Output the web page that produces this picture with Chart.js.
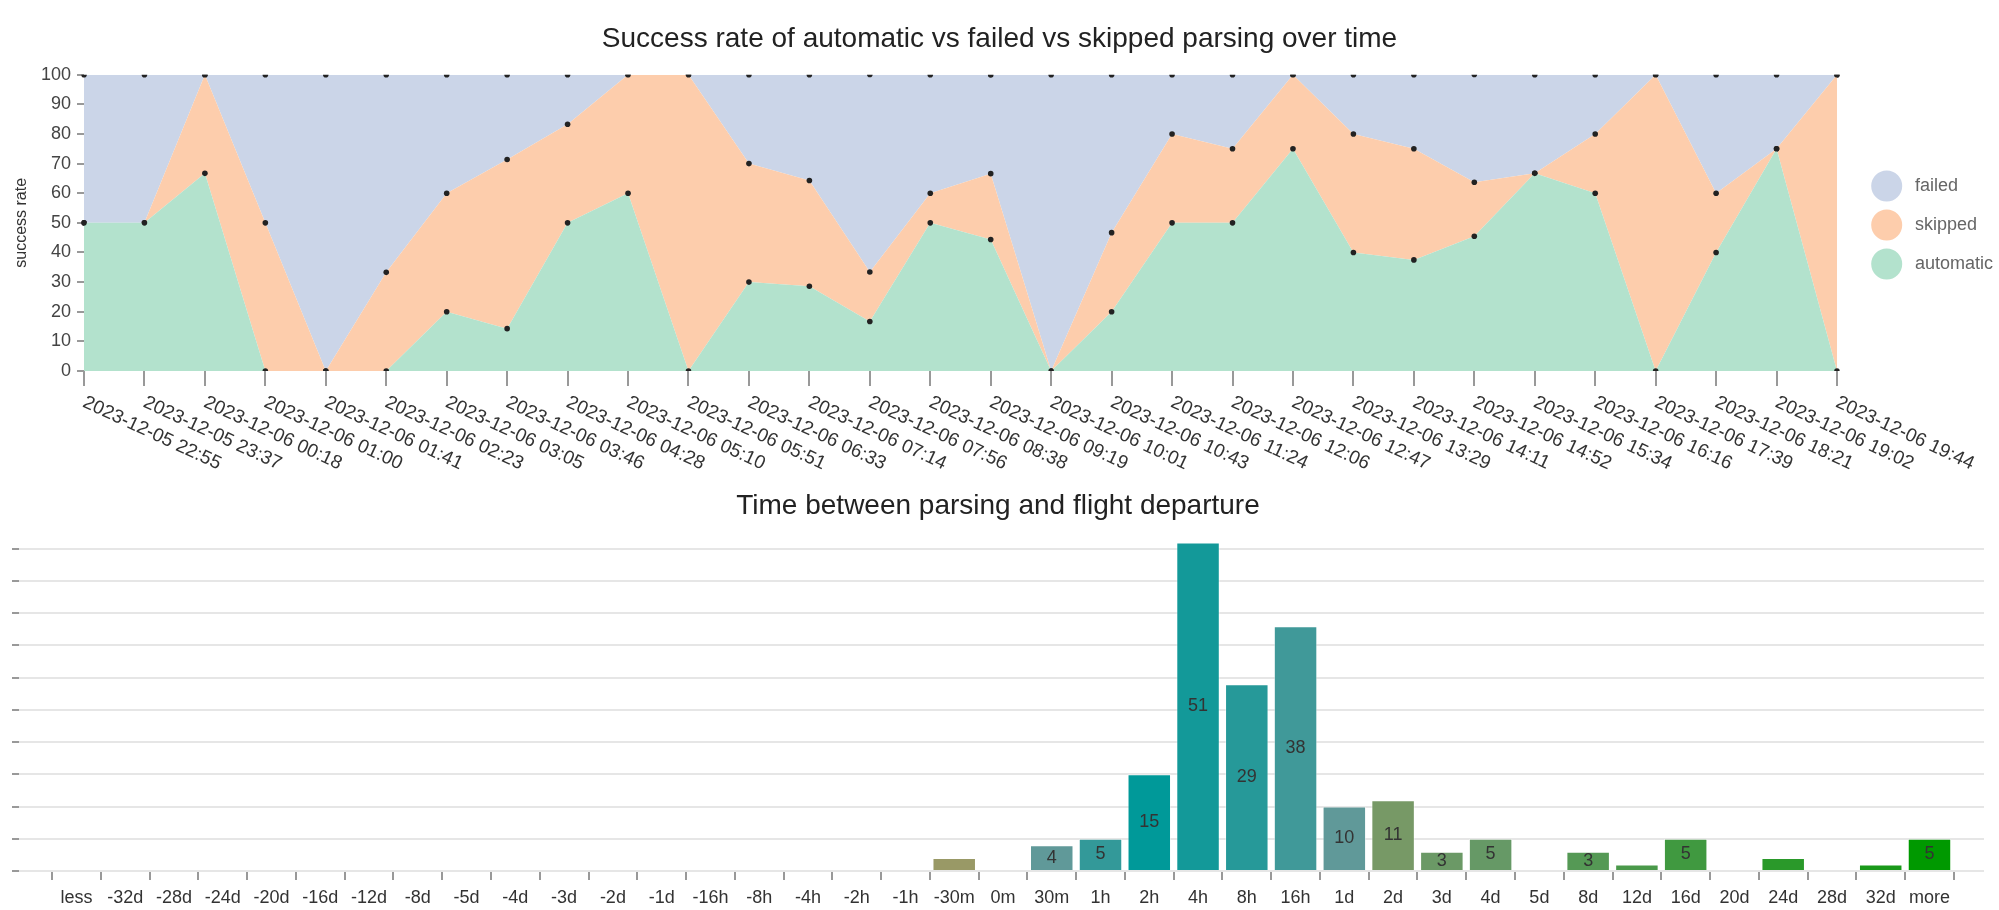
<!DOCTYPE html>
<html><head><meta charset="utf-8">
<script src="https://cdn.jsdelivr.net/npm/chart.js@4.4.0/dist/chart.umd.min.js"></script>
<style>
html,body{margin:0;padding:0;background:#fff;}
#wrap1{position:absolute;left:0;top:0;width:1999px;height:485px;}
#wrap2{position:absolute;left:0;top:485px;width:1999px;height:425px;}
canvas{display:block;}
</style></head><body>
<div id="wrap1"><canvas id="c1" width="1999" height="485"></canvas></div>
<div id="wrap2"><canvas id="c2" width="1999" height="425"></canvas></div>
<script>
// ---- Chart 1 data ----
const timeLabels = [
  '2023-12-05 22:55','2023-12-05 23:37','2023-12-06 00:18','2023-12-06 01:00','2023-12-06 01:41',
  '2023-12-06 02:23','2023-12-06 03:05','2023-12-06 03:46','2023-12-06 04:28','2023-12-06 05:10',
  '2023-12-06 05:51','2023-12-06 06:33','2023-12-06 07:14','2023-12-06 07:56','2023-12-06 08:38',
  '2023-12-06 09:19','2023-12-06 10:01','2023-12-06 10:43','2023-12-06 11:24','2023-12-06 12:06',
  '2023-12-06 12:47','2023-12-06 13:29','2023-12-06 14:11','2023-12-06 14:52','2023-12-06 15:34',
  '2023-12-06 16:16','2023-12-06 17:39','2023-12-06 18:21','2023-12-06 19:02','2023-12-06 19:44'
];
const automatic = [50, 50, 66.7, 0, 0, 0, 20, 14.3, 50, 60, 0, 30, 28.6, 16.7, 50, 44.4, 0, 20, 50, 50, 75, 40, 37.5, 45.5, 66.7, 60, 0, 40, 75, 0];
const skipped   = [0, 0, 33.3, 50, 0, 33.3, 40, 57.1, 33.3, 40, 100, 40, 35.7, 16.7, 10, 22.2, 0, 26.7, 30, 25, 25, 40, 37.5, 18.2, 0, 20, 100, 20, 0, 100];
const failed    = [50, 50, 0, 50, 100, 66.7, 40, 28.6, 16.7, 0, 0, 30, 35.7, 66.7, 40, 33.3, 100, 53.3, 20, 25, 0, 20, 25, 36.4, 33.3, 20, 0, 40, 25, 0];
const yTickStep = 10;

// ---- Chart 2 data ----
const bucketLabels = ['less','-32d','-28d','-24d','-20d','-16d','-12d','-8d','-5d','-4d','-3d','-2d','-1d',
  '-16h','-8h','-4h','-2h','-1h','-30m','0m','30m','1h','2h','4h','8h','16h','1d','2d','3d','4d','5d',
  '8d','12d','16d','20d','24d','28d','32d','more'];
const bucketCounts = [0,0,0,0,0,0,0,0,0,0,0,0,0, 0,0,0,0,0,2,0,4,5,15,51,29,38,10,11,3,5,0, 3,1,5,0,2,0,1,5];
const bucketColors = ['#999999','#999999','#999999','#999999','#999999','#999999','#999999','#999999','#999999','#999999','#999999','#999999','#999999',
  '#999999','#999999','#999999','#999999','#999999','#999966','#999999','#609999','#339999','#009999','#139999','#269999','#409999','#609999','#779966','#6b9966','#669966','#5e995e',
  '#559955','#4a994a','#409940','#339933','#2a992a','#229922','#1a991a','#009900'];

const FONT = "'Liberation Sans', Arial, Helvetica, sans-serif";
Chart.defaults.font.family = FONT;

const fillColors = {automatic:'#b3e2cd', skipped:'#fdcdac', failed:'#cbd5e8'};

function makeIcon(color){
  const c = document.createElement('canvas');
  c.width = 48; c.height = 34;
  const g = c.getContext('2d');
  g.fillStyle = color;
  g.beginPath(); g.arc(28.7, 17, 15.5, 0, Math.PI*2); g.fill();
  return c;
}

const legendWidthPlugin = {
  id: 'legendWidth',
  beforeLayout(chart){
    const lg = chart.legend;
    if (lg && !lg.__patched){
      const f = lg.fit;
      lg.fit = function(){ f.call(this); this.width = 162; };
      lg.__patched = true;
    }
  },
  afterLayout(chart){
    const lg = chart.legend;
    if (lg){ lg.top += 32; lg.bottom += 32; }
  }
};

const xLabelPlugin = {
  id: 'xLabels',
  afterDraw(chart){
    const xs = chart.scales.x, ctx = chart.ctx;
    const y0 = chart.chartArea.bottom + 22;
    ctx.save();
    ctx.font = '19px ' + FONT;
    ctx.fillStyle = '#333';
    ctx.textAlign = 'left';
    ctx.textBaseline = 'top';
    timeLabels.forEach((t, i) => {
      const x = xs.getPixelForValue(i);
      ctx.save();
      ctx.translate(x + 4, y0);
      ctx.rotate(25 * Math.PI / 180);
      ctx.fillText(t, 0, 0);
      ctx.restore();
    });
    ctx.restore();
  }
};

function ds(label, data, fill){
  return {label, data, fill, backgroundColor: fillColors[label], borderWidth: 0, borderColor: fillColors[label],
    pointRadius: 2.8, pointBackgroundColor: '#222', pointBorderWidth: 0, pointHoverRadius: 2.8, tension: 0};
}

new Chart(document.getElementById('c1'), {
  type: 'line',
  data: { labels: timeLabels, datasets: [
    ds('automatic', automatic, 'origin'),
    ds('skipped', skipped, '-1'),
    ds('failed', failed, '-1')
  ]},
  options: {
    responsive: false, animation: false, devicePixelRatio: 1,
    events: [],
    layout: {padding: {left: 0, right: 0, top: 0, bottom: 99}},
    plugins: {
      title: {display: true, text: 'Success rate of automatic vs failed vs skipped parsing over time',
        font: {size: 28, weight: 'normal'}, color: '#222', padding: {top: 22.7, bottom: 18.4}},
      legend: {position: 'right', reverse: true,
        labels: {usePointStyle: true, pointStyleWidth: 48, padding: 21, color: '#666', font: {size: 18},
          generateLabels(chart){
            const items = Chart.defaults.plugins.legend.labels.generateLabels(chart);
            items.forEach(it => { it.pointStyle = makeIcon(fillColors[it.text]); });
            return items;
          }}},
      tooltip: {enabled: false}
    },
    scales: {
      x: {grid: {drawOnChartArea: false, drawTicks: true, tickLength: 15, color: '#999', lineWidth: 2},
          border: {display: false}, ticks: {display: false}},
      y: {stacked: true, min: 0, max: 100,
          ticks: {stepSize: yTickStep, color: '#444', font: {size: 18}, padding: 6},
          grid: {drawOnChartArea: false, tickLength: 7, color: '#999', lineWidth: 2},
          border: {display: false},
          title: {display: true, text: 'success rate', font: {size: 16}, color: '#333', padding: {top: 12, bottom: 0}},
          afterFit: s => { s.width = 84; }}
    }
  },
  plugins: [legendWidthPlugin, xLabelPlugin]
});

const barLabelPlugin = {
  id: 'barLabels',
  afterDatasetsDraw(chart){
    const meta = chart.getDatasetMeta(0), ctx = chart.ctx;
    ctx.save();
    ctx.font = '18px ' + FONT;
    ctx.fillStyle = '#333';
    ctx.textAlign = 'center';
    ctx.textBaseline = 'middle';
    meta.data.forEach((bar, i) => {
      const v = bucketCounts[i];
      if (v >= 3) ctx.fillText(String(v), bar.x, (bar.y + bar.base) / 2);
    });
    ctx.restore();
  }
};

new Chart(document.getElementById('c2'), {
  type: 'bar',
  data: { datasets: [{
    data: bucketCounts.map((v, i) => ({x: i, y: v})),
    backgroundColor: bucketColors,
    borderColor: 'rgba(255,255,255,0.45)', borderWidth: 1,
    categoryPercentage: 1, barPercentage: 0.892
  }]},
  options: {
    responsive: false, animation: false, devicePixelRatio: 1,
    events: [],
    layout: {padding: {left: 12, right: 15, top: 0, bottom: 0}},
    plugins: {
      legend: {display: false},
      title: {display: true, text: 'Time between parsing and flight departure',
        font: {size: 28, weight: 'normal'}, color: '#222', padding: {top: 4.2, bottom: 19.6}},
      tooltip: {enabled: false}
    },
    scales: {
      x: {type: 'linear', min: -1.179, max: 39.118, offset: false,
          afterBuildTicks: s => { s.ticks = bucketLabels.map((_, i) => ({value: i})); },
          afterFit: s => { s.height = 39; },
          ticks: {autoSkip: false, maxRotation: 0, minRotation: 0, font: {size: 18}, color: '#333', padding: 7,
                  callback: v => bucketLabels[v]},
          grid: {drawOnChartArea: false, tickLength: 9, color: '#999', lineWidth: 2},
          border: {display: false}},
      y: {min: 0, max: 51,
          ticks: {stepSize: 5, display: false, includeBounds: false},
          grid: {color: '#e6e6e6', lineWidth: 2, tickLength: 7, tickColor: '#999'},
          border: {display: false}}
    }
  },
  plugins: [barLabelPlugin]
});
</script>
</body></html>
